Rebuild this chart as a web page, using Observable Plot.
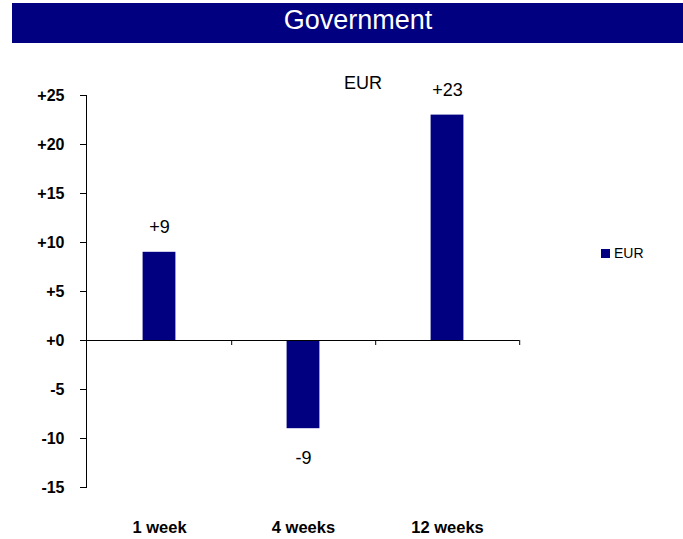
<!DOCTYPE html>
<html>
<head>
<meta charset="utf-8">
<script src="https://cdn.jsdelivr.net/npm/d3@7"></script>
<script src="https://cdn.jsdelivr.net/npm/@observablehq/plot@0.6"></script>
<style>
  html, body { margin: 0; padding: 0; background: #fff; }
  body { font-family: "Liberation Sans", Arial, sans-serif; }
  #wrap { position: relative; width: 683px; height: 539px; overflow: hidden; }
  #title {
    margin: 3px 0 0 12px; width: 671px; height: 40px; background: #000080;
    color: #fff; font-size: 27px; line-height: 34px; text-align: center;
    padding-left: 21px; box-sizing: border-box;
  }
  #legend { position: absolute; left: 601px; top: 245px; font-size: 14px; color: #000; display: flex; align-items: center; }
  #legend .sw { width: 9px; height: 9px; background: #000080; margin-right: 4px; margin-top: 1px; }
  svg { display: block; }
</style>
</head>
<body>
<div id="wrap">
  <div id="title">Government</div>
  <div id="chart"></div>
  <div id="legend"><span class="sw"></span><span id="legtext"></span></div>
</div>
<script>
const title = "Government";
const series = ["EUR"];
const categories = ["1 week", "4 weeks", "12 weeks"];
const values = [9, -9, 23];
const yTicks = [-15, -10, -5, 0, 5, 10, 15, 20, 25];

const data = categories.map((c, i) => ({category: c, value: values[i]}));
const fmt = d => (d >= 0 ? "+" : "") + d;
const navy = "#000080";

document.getElementById("title").textContent = title;
document.getElementById("legtext").textContent = series[0];

const chart = Plot.plot({
  width: 683,
  height: 496,
  marginTop: 52,
  marginBottom: 52,
  marginLeft: 86,
  marginRight: 164,
  style: {fontFamily: "Liberation Sans, Arial, sans-serif", color: "#000", background: "#fff"},
  x: {domain: categories, padding: 0, axis: null},
  y: {domain: [-15, 25], axis: null},
  marks: [
    Plot.barY(data, {x: "category", y: "value", fill: navy, insetLeft: 55.6, insetRight: 55.6}),
    Plot.frame({anchor: "left", stroke: "#000"}),
    Plot.ruleY([0], {stroke: "#000"}),
    Plot.ruleX(categories, {x: d => d, y1: 0, y2: 0, dx: 72.2, insetBottom: -5, stroke: "#000"}),
    Plot.axisY({ticks: yTicks, tickFormat: fmt, tickSize: 6, tickPadding: 16, fontSize: 16, fontWeight: "bold", label: null}),
    Plot.text(categories, {x: d => d, frameAnchor: "bottom", lineAnchor: "middle", dy: 40, fontSize: 16.5, fontWeight: "bold"}),
    Plot.text(data.filter(d => d.value >= 0), {x: "category", y: "value", text: d => fmt(d.value), dy: -25, lineAnchor: "middle", fontSize: 18}),
    Plot.text(data.filter(d => d.value < 0), {x: "category", y: "value", text: d => fmt(d.value), dy: 30, lineAnchor: "middle", fontSize: 18}),
    Plot.text(series, {frameAnchor: "top", dx: 60, dy: -12, lineAnchor: "middle", fontSize: 18})
  ]
});
document.getElementById("chart").appendChild(chart);
</script>
</body>
</html>
